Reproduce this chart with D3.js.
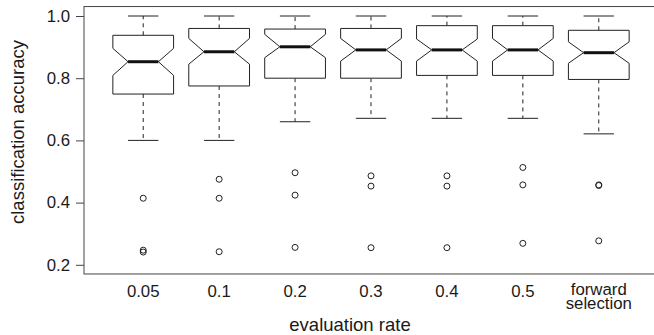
<!DOCTYPE html>
<html>
<head>
<meta charset="utf-8">
<script src="https://cdn.jsdelivr.net/npm/d3@7"></script>
<style>
  html, body { margin: 0; padding: 0; background: #fff; }
  svg { display: block; }
  text { font-family: "Liberation Sans", Arial, Helvetica, sans-serif; fill: #1a1a1a; }
</style>
</head>
<body>
<svg id="chart" width="654" height="335"></svg>
<script>
// ---- data ----
const categories = ["0.05", "0.1", "0.2", "0.3", "0.4", "0.5", "forward selection"];
const whiskerHigh = [1.0, 1.0, 1.0, 1.0, 1.0, 1.0, 1.0];
const q3 = [0.938, 0.960, 0.958, 0.960, 0.969, 0.969, 0.954];
const notchHigh = [0.896, 0.928, 0.941, 0.928, 0.926, 0.928, 0.917];
const median = [0.853, 0.885, 0.901, 0.891, 0.891, 0.891, 0.882];
const notchLow = [0.809, 0.845, 0.866, 0.855, 0.855, 0.855, 0.848];
const q1 = [0.749, 0.775, 0.800, 0.800, 0.809, 0.809, 0.796];
const whiskerLow = [0.600, 0.600, 0.660, 0.671, 0.671, 0.671, 0.621];
const outliers = [
  [0.414, 0.247, 0.241],
  [0.475, 0.414, 0.242],
  [0.496, 0.424, 0.256],
  [0.486, 0.453, 0.255],
  [0.486, 0.453, 0.255],
  [0.513, 0.457, 0.269],
  [0.457, 0.455, 0.277]
];
const yTicks = [0.2, 0.4, 0.6, 0.8, 1.0];
const yTitle = "classification accuracy";
const xTitle = "evaluation rate";

// ---- layout ----
const svg = d3.select("#chart");
const x = d3.scaleLinear().domain([0.22, 7.78]).range([84, 658]);
const y = d3.scaleLinear().domain([0.2, 1.0]).range([264.8, 16]);
const yFrameTop = 1.0304, yFrameBottom = 0.1705;
const boxWex = 0.8;
const stroke = "#222";
const tickFont = 16.8;

const boxes = categories.map((c, i) => ({
  c, i,
  wh: whiskerHigh[i], q3: q3[i], nh: notchHigh[i], med: median[i],
  nl: notchLow[i], q1: q1[i], wl: whiskerLow[i], out: outliers[i]
}));

const g = svg.append("g");

boxes.forEach(b => {
  const cx = x(b.i + 1);
  const half = (x(boxWex / 2) - x(0));
  const nx = half / 2;
  const gb = g.append("g");
  // whiskers (dashed)
  gb.append("line").attr("x1", cx).attr("x2", cx).attr("y1", y(b.q3)).attr("y2", y(b.wh))
    .attr("stroke", stroke).attr("stroke-width", 1).attr("stroke-dasharray", "4,4");
  gb.append("line").attr("x1", cx).attr("x2", cx).attr("y1", y(b.q1)).attr("y2", y(b.wl))
    .attr("stroke", stroke).attr("stroke-width", 1).attr("stroke-dasharray", "4,4");
  // caps
  [b.wh, b.wl].forEach(v => {
    gb.append("line").attr("x1", cx - half / 2).attr("x2", cx + half / 2)
      .attr("y1", y(v)).attr("y2", y(v)).attr("stroke", stroke).attr("stroke-width", 1);
  });
  // notched box
  const pts = [
    [cx - half, y(b.q1)], [cx - half, y(b.nl)], [cx - nx, y(b.med)], [cx - half, y(b.nh)],
    [cx - half, y(b.q3)], [cx + half, y(b.q3)], [cx + half, y(b.nh)], [cx + nx, y(b.med)],
    [cx + half, y(b.nl)], [cx + half, y(b.q1)]
  ];
  gb.append("path").attr("d", d3.line()(pts) + "Z")
    .attr("fill", "white").attr("stroke", stroke).attr("stroke-width", 1);
  // median
  gb.append("line").attr("x1", cx - nx).attr("x2", cx + nx)
    .attr("y1", y(b.med)).attr("y2", y(b.med)).attr("stroke", "#111").attr("stroke-width", 3);
  // outliers
  gb.selectAll("circle").data(b.out).enter().append("circle")
    .attr("cx", cx).attr("cy", d => y(d)).attr("r", 3)
    .attr("fill", "none").attr("stroke", stroke).attr("stroke-width", 1);
});

// frame
svg.append("rect")
  .attr("x", x(0.22)).attr("y", y(yFrameTop))
  .attr("width", x(7.78) - x(0.22)).attr("height", y(yFrameBottom) - y(yFrameTop))
  .attr("fill", "none").attr("stroke", "#444").attr("stroke-width", 1);

// y axis
const yAxis = d3.axisLeft(y).tickValues(yTicks).tickFormat(d3.format(".1f"))
  .tickSize(8).tickPadding(6);
const ya = svg.append("g").attr("transform", `translate(${x(0.22)},0)`).call(yAxis);
ya.select(".domain").remove();
ya.selectAll(".tick line").attr("stroke", "#444");
ya.selectAll(".tick text").attr("font-size", tickFont).attr("fill", "#1a1a1a")
  .attr("font-family", '"Liberation Sans", Arial, sans-serif');

// x tick labels
const xl = svg.append("g");
categories.forEach((c, i) => {
  const words = c.split(" ");
  const t = xl.append("text").attr("x", x(i + 1)).attr("text-anchor", "middle")
    .attr("font-size", tickFont);
  if (words.length === 1) {
    t.attr("y", 297).text(c);
  } else {
    t.attr("y", 295);
    words.forEach((w, k) => {
      t.append("tspan").attr("x", x(i + 1)).attr("dy", k === 0 ? 0 : 13.5).text(w);
    });
  }
});

// titles
svg.append("text").attr("x", 350).attr("y", 331).attr("text-anchor", "middle")
  .attr("font-size", 18.5).text(xTitle);
svg.append("text").attr("transform", "translate(24,132) rotate(-90)").attr("text-anchor", "middle")
  .attr("font-size", 18.5).text(yTitle);
</script>
</body>
</html>
